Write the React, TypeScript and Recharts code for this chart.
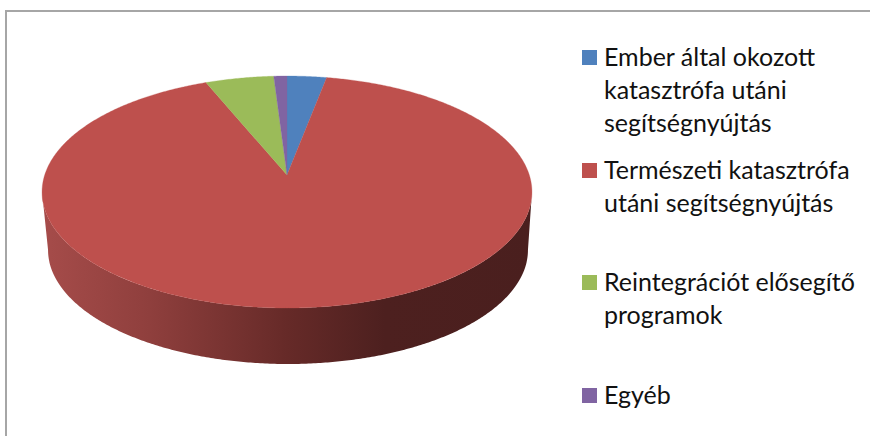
import React from "react";
import { Cell, Legend, Pie, PieChart } from "recharts";

const categories = [
  "Ember által okozott katasztrófa utáni segítségnyújtás",
  "Természeti katasztrófa utáni segítségnyújtás",
  "Reintegrációt elősegítő programok",
  "Egyéb",
];
const shares = [3, 90.8, 5.2, 1];
const colors = ["#4F81BD", "#BE504D", "#9BBB59", "#8064A2"];

const data = categories.map((name, i) => ({ name, value: shares[i] }));

// the tilted disc: the circle is projected so its centre lands above the ellipse centre
const K = 0.1467;
const SCALE_X = 242.3;
const SCALE_Y = 113.5;

const project = (cx: number, cy: number, deg: number) => {
  const t = (deg * Math.PI) / 180;
  const w = 1 + K * Math.cos(t);
  return { x: cx + (SCALE_X * Math.sin(t)) / w, y: cy - (SCALE_Y * Math.cos(t)) / w };
};

// same point on the lower rim of the wall
const lower = (p: { x: number; y: number }, cx: number, cy: number) => {
  const u = (p.x - cx) / 245;
  const v = (p.y - (cy + 17)) / 116;
  return { x: cx + 1 + 240 * u, y: cy + 75 + 114 * v };
};

const WALL_FROM = (Math.acos(-K) * 180) / Math.PI;
const WALL_TO = 360 - WALL_FROM;

const arc = (cx: number, cy: number, a: number, b: number) => {
  const pts = [];
  const n = Math.max(2, Math.ceil((b - a) * 2));
  for (let i = 0; i <= n; i++) pts.push(project(cx, cy, a + ((b - a) * i) / n));
  return pts;
};

const toPath = (pts: { x: number; y: number }[]) =>
  pts.map((p, i) => `${i ? "L" : "M"}${p.x.toFixed(2)} ${p.y.toFixed(2)}`).join(" ") + " Z";

const TiltedSector = (props: any) => {
  const { cx, cy, startAngle, endAngle, fill } = props;
  const a = 90 - startAngle;
  const b = 90 - endAngle;
  const from = Math.max(a, WALL_FROM);
  const to = Math.min(b, WALL_TO);
  const top = arc(cx, cy, a, b);
  let wall = null;
  if (to > from) {
    const rim = arc(cx, cy, from, to);
    const bottom = rim.map((p) => lower(p, cx, cy)).reverse();
    wall = <path d={toPath([...rim, ...bottom])} fill="url(#wallShade)" />;
  }
  return (
    <g>
      {wall}
      <path d={toPath([{ x: cx, y: cy }, ...top])} fill={fill} stroke={fill} strokeWidth={0.3} />
    </g>
  );
};

const LegendList = ({ payload }: any) => (
  <div style={{ width: 280 }}>
    {(payload || []).map((entry: any, i: number) => (
      <div key={i} style={{ position: "relative", height: 112.7, paddingLeft: 22 }}>
        <span
          style={{
            position: "absolute",
            left: 0,
            top: 10,
            width: 15,
            height: 15,
            background: colors[i],
          }}
        />
        <span>{entry.value}</span>
      </div>
    ))}
  </div>
);

export default function App() {
  return (
    <div style={{ position: "fixed", left: 0, top: 0, width: 870, height: 436, overflow: "hidden", background: "#fff" }}>
      <div
        style={{
          position: "absolute",
          left: 5,
          top: 10,
          width: 865,
          height: 426,
          borderLeft: "2px solid #a6a6a6",
          borderTop: "2px solid #a6a6a6",
          boxSizing: "border-box",
        }}
      />
      <PieChart width={870} height={436} margin={{ top: 0, right: 0, bottom: 0, left: 0 }} style={{ position: "absolute", left: 0, top: 0 }}>
        <defs>
          <linearGradient id="wallShade" gradientUnits="userSpaceOnUse" x1="42" y1="0" x2="532" y2="0">
            <stop offset="0" stopColor="#A64C4A" />
            <stop offset="0.22" stopColor="#8F3F3D" />
            <stop offset="0.5" stopColor="#662A28" />
            <stop offset="0.7" stopColor="#4D201F" />
            <stop offset="1" stopColor="#4A1F1E" />
          </linearGradient>
        </defs>
        <Pie
          data={data}
          dataKey="value"
          nameKey="name"
          cx={287}
          cy={175}
          outerRadius={160}
          startAngle={90}
          endAngle={-270}
          stroke="none"
          shape={TiltedSector}
          inactiveShape={TiltedSector}
          isAnimationActive={false}
        >
          {data.map((d, i) => (
            <Cell key={d.name} fill={colors[i]} />
          ))}
        </Pie>
        <Legend
          layout="vertical"
          align="right"
          verticalAlign="top"
          itemSorter={null}
          content={LegendList}
          wrapperStyle={{
            left: 582,
            top: 40,
            width: 280,
            fontFamily: "Lato, sans-serif",
            fontSize: 25,
            lineHeight: "33px",
            color: "#111",
          }}
        />
      </PieChart>
    </div>
  );
}
